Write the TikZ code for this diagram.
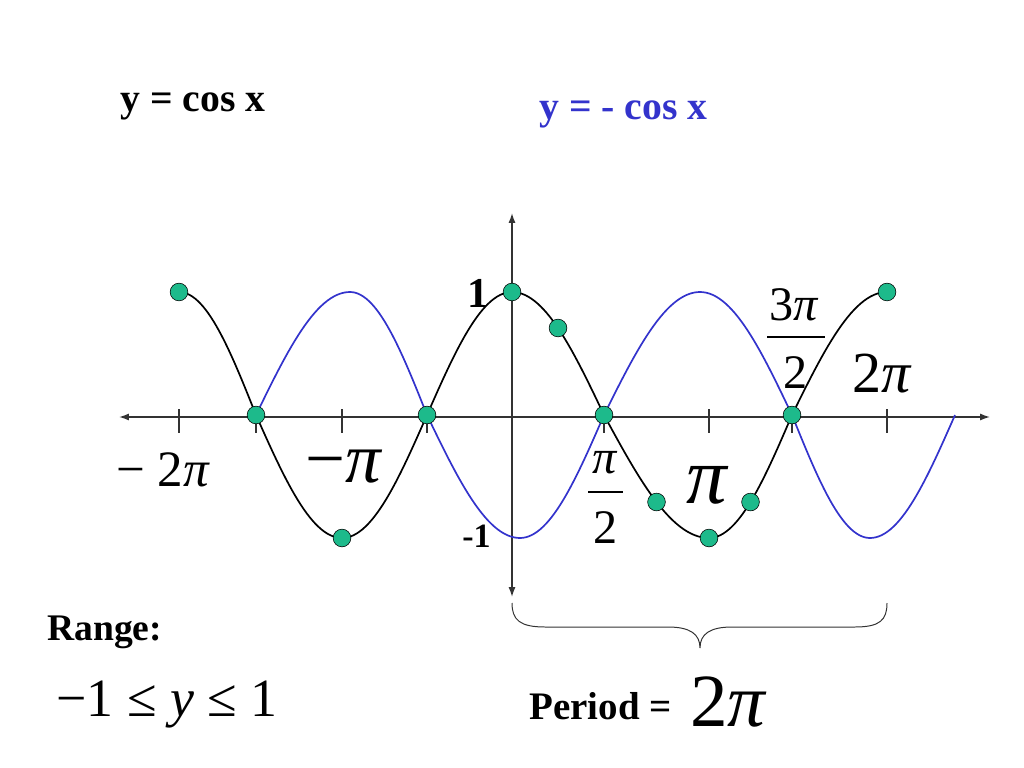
\documentclass[tikz,border=0pt]{standalone}
\usepackage{fontspec}
\setmainfont{Liberation Serif}
\usetikzlibrary{arrows.meta}

\definecolor{cosblue}{RGB}{51,51,204}
\definecolor{dotgreen}{RGB}{29,186,139}
\newcommand{\pisym}{\textit{π}}
\newcommand{\fsz}[1]{\fontsize{#1}{#1}\selectfont}

\begin{document}
\begin{tikzpicture}[x=0.0248cm, y=-0.0248cm,
        every node/.style={inner sep=0pt},
        axis/.style={line width=1pt, black!80, {Latex[length=7pt,width=5pt]}-{Latex[length=7pt,width=5pt]}},
        dot/.style={circle, draw=black, thin, fill=dotgreen, minimum size=12.5pt},
        fracbar/.style={line width=1.1pt}]
    \useasboundingbox (0,0) rectangle (1024,768);

    % axes
    \coordinate (xl) at (119,417);
    \coordinate (xr) at (990,417);
    \coordinate (yt) at (512,213);
    \coordinate (yb) at (512,597);
    \draw[axis] (xl) -- (xr);
    \draw[axis] (yb) -- (yt);
    \foreach \px in {179,256,342,427,604,709,792,887}
        \draw[black!80, line width=0.8pt] (\px,409) -- (\px,433);

    % y = -cos x
    \foreach \q/\xa/\xb in {-3/256/350, -2/350/427, -1/427/520, 0/520/604, 1/604/700, 2/700/792, 3/792/870, 4/870/955}
        \draw[line width=1.2pt, cosblue] plot[domain=0:1, samples=30] ({\xa+(\xb-\xa)*\x}, {415+123*cos((\q+\x)*90)});
    % y = cos x
    \foreach \q/\xa/\xb in {-4/179/256, -3/256/342, -2/342/427, -1/427/512, 0/512/604, 1/604/709, 2/709/792, 3/792/887}
        \draw[line width=1.2pt, black] plot[domain=0:1, samples=30] ({\xa+(\xb-\xa)*\x}, {415-123*cos((\q+\x)*90)});

    \foreach \n/\px/\py in {pm2/179/292, pm32/256/415, pm1/342/538, pm12/427/415, p0/512/292, p14/558/328,
                            p12/604/415, p34/656.5/502, p1/709/538, p54/750.5/502, p32/792/415, p2/887/292}
        \node[dot] (\n) at (\px,\py) {};

    % tick labels
    \node[anchor=base west, font=\fsz{36}] (lm2pi) at (116,486) {− 2\pisym};
    \node[anchor=base, font=\fsz{50}] (lmpi) at (344,482) {−\pisym};
    \node[anchor=base, font=\fsz{34}] (lpinum) at (605,473) {\pisym};
    \draw[fracbar] (588,492) -- (623,492);
    \node[anchor=base, font=\fsz{34}] (lpiden) at (606,543) {2};
    \node[anchor=base, font=\fsz{57}] (lpi) at (708,503) {\pisym};
    \node[anchor=base, font=\fsz{34}] (l3pinum) at (794,320) {3\pisym};
    \draw[fracbar] (767,337) -- (825,337);
    \node[anchor=base, font=\fsz{34}] (l3piden) at (796,388) {2};
    \node[anchor=base, font=\fsz{41}] (l2pi) at (882,392) {2\pisym};
    \node[anchor=base east, font=\fsz{30}\bfseries] (lone) at (489,307) {1};
    \node[anchor=base east, font=\fsz{24}\bfseries] (lmone) at (491,547) {-1};

    % titles
    \node[anchor=base west, font=\fsz{28}\bfseries] (tcos) at (120,112) {y = cos x};
    \node[anchor=base west, font=\fsz{28}\bfseries, cosblue] (tmcos) at (539,120) {y = - cos x};

    % period brace
    \draw[black!80, line width=0.7pt] (512,603) .. controls (512,620) and (520,627) .. (545,627) -- (668,627)
        .. controls (690,627) and (700,634) .. (700,648) .. controls (700,634) and (710,627) .. (732,627) -- (855,627)
        .. controls (880,627) and (887,620) .. (887,603);

    \node[anchor=base west, font=\fsz{26.5}\bfseries] (trange) at (47,640) {Range:};
    \node[anchor=base west, font=\fsz{38}] (vrange) at (56,716) {−1 ≤ \textit{y} ≤ 1};
    \node[anchor=base west, font=\fsz{27.5}\bfseries] (tperiod) at (529,719) {Period =};
    \node[anchor=base west, font=\fsz{53}] (vperiod) at (690,726) {2\pisym};
\end{tikzpicture}
\end{document}
